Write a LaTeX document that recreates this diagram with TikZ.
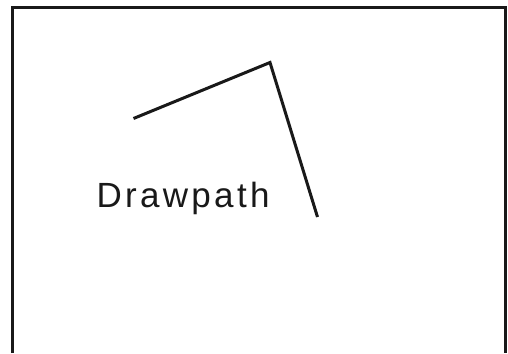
\documentclass[tikz,border=0pt]{standalone}
\usepackage{fontspec}
\setmainfont{Liberation Sans}
\newfontfamily\trackedfont[LetterSpace=9.5]{Liberation Sans}
\tikzset{
  frameline/.style={line width=3pt, black!90},
  pathline/.style={line width=3pt, black!90, line join=miter},
  label/.style={inner sep=0pt, anchor=base west, font=\trackedfont\fontsize{35}{40}\selectfont, text=black!90}
}
\begin{document}
\begin{tikzpicture}[x=1pt,y=-1pt]
\useasboundingbox (0,0) rectangle (508,353);
\coordinate (bl) at (12.5,353);
\coordinate (tl) at (12.5,7.5);
\coordinate (tr) at (505.5,7.5);
\coordinate (br) at (505.5,353);
\draw[frameline] (bl) -- (tl) -- (tr) -- (br);
\coordinate (p1) at (133.5,118.5);
\coordinate (p2) at (270,62.5);
\coordinate (p3) at (317.5,217);
\draw[pathline] (p1) -- (p2) -- (p3);
\node[label] (txt) at (96.3,207.7) {Drawpath};
\end{tikzpicture}
\end{document}
